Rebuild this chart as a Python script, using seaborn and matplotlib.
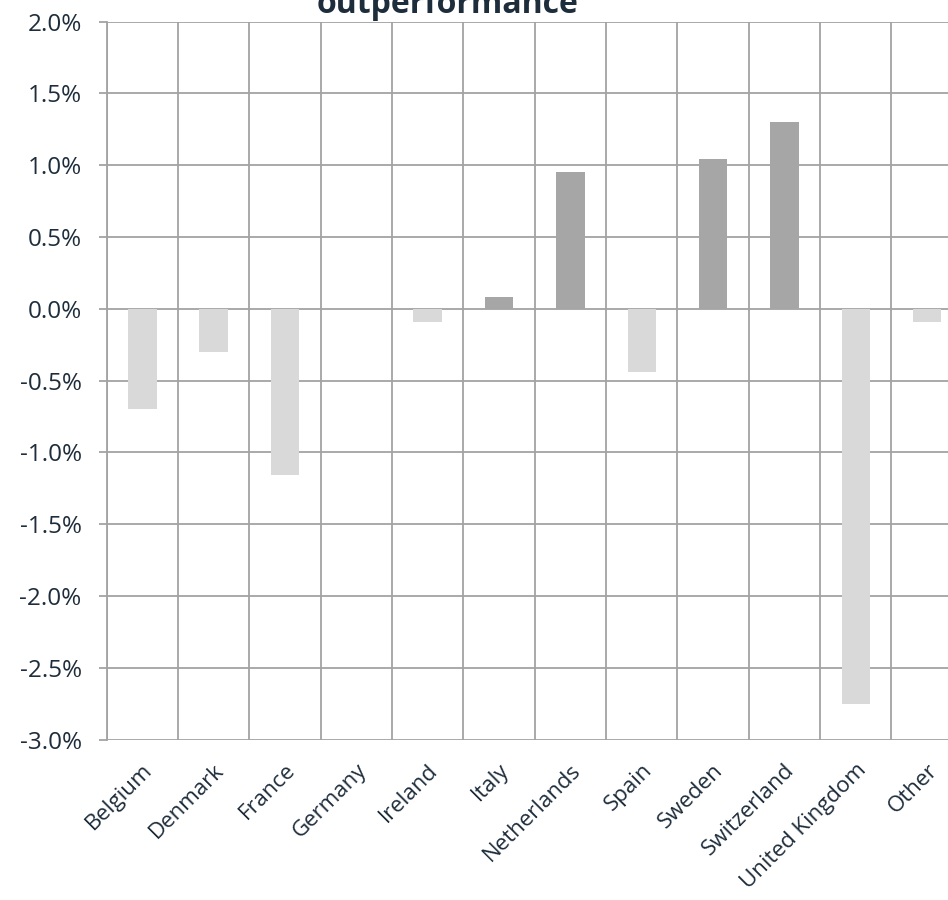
import matplotlib
matplotlib.use("Agg")
import matplotlib.pyplot as plt
from matplotlib.ticker import FixedLocator, PercentFormatter
import matplotlib.transforms as mtransforms
import seaborn as sns
import pandas as pd

# Relative performance by country (percentage points)
countries = ["Belgium", "Denmark", "France", "Germany", "Ireland", "Italy",
             "Netherlands", "Spain", "Sweden", "Switzerland", "United Kingdom", "Other"]
outperformance = [-0.70, -0.30, -1.16, 0.00, -0.09, 0.08,
                  0.95, -0.44, 1.04, 1.30, -2.75, -0.09]
y_ticks = [2.0, 1.5, 1.0, 0.5, 0.0, -0.5, -1.0, -1.5, -2.0, -2.5, -3.0]

POS_COLOR = "#a6a6a6"
NEG_COLOR = "#d9d9d9"
GRID_COLOR = "#a3a3a3"
TEXT_COLOR = "#1e2d3b"

df = pd.DataFrame({"country": countries, "value": outperformance})
bar_colors = {c: (POS_COLOR if v >= 0 else NEG_COLOR) for c, v in zip(countries, outperformance)}

sns.set_theme(style="white")
plt.rcParams["font.family"] = ["Open Sans", "DejaVu Sans"]
plt.rcParams["axes.unicode_minus"] = False

fig = plt.figure(figsize=(9.48, 9.00), dpi=100)
ax = fig.add_axes([0.1126, 0.1783, 0.903, 0.7978])

sns.barplot(data=df, x="country", y="value", hue="country", palette=bar_colors,
            legend=False, width=0.4, ax=ax, saturation=1, linewidth=0)

ax.set_xlim(-0.5, len(countries) - 0.5)
ax.set_ylim(-3.0, 2.0)
ax.set_axisbelow(True)

# horizontal gridlines at every half percent
ax.yaxis.set_major_locator(FixedLocator(y_ticks))
ax.yaxis.set_major_formatter(PercentFormatter(decimals=1))
ax.grid(axis="y", which="major", color=GRID_COLOR, linewidth=1.3)

# vertical gridlines between categories
ax.xaxis.set_minor_locator(FixedLocator([i - 0.5 for i in range(len(countries) + 1)]))
ax.grid(axis="x", which="minor", color=GRID_COLOR, linewidth=1.3)
ax.grid(axis="x", which="major", visible=False)

for side in ["top", "right", "bottom"]:
    ax.spines[side].set_visible(False)
ax.spines["left"].set_color(GRID_COLOR)
ax.spines["left"].set_linewidth(1.3)

ax.tick_params(axis="y", which="major", length=6, width=1.3, color=GRID_COLOR,
               labelsize=17.5, labelcolor=TEXT_COLOR, pad=12, left=True)
ax.tick_params(axis="x", which="both", length=0, labelsize=16, labelcolor=TEXT_COLOR, pad=20)

ax.set_xlabel("")
ax.set_ylabel("")
ax.set_xticks(range(len(countries)))
ax.set_xticklabels(countries, rotation=45, ha="right", va="center", rotation_mode="anchor")
shift = mtransforms.ScaledTranslation(0.07, 0, fig.dpi_scale_trans)
for lbl in ax.get_xticklabels():
    lbl.set_transform(lbl.get_transform() + shift)

fig.text(0.472, 1 - 13 / 900, "outperformance", ha="center", va="baseline",
         fontsize=23, fontweight="bold", color=TEXT_COLOR)

fig.savefig("out.png", dpi=100, facecolor="white")
